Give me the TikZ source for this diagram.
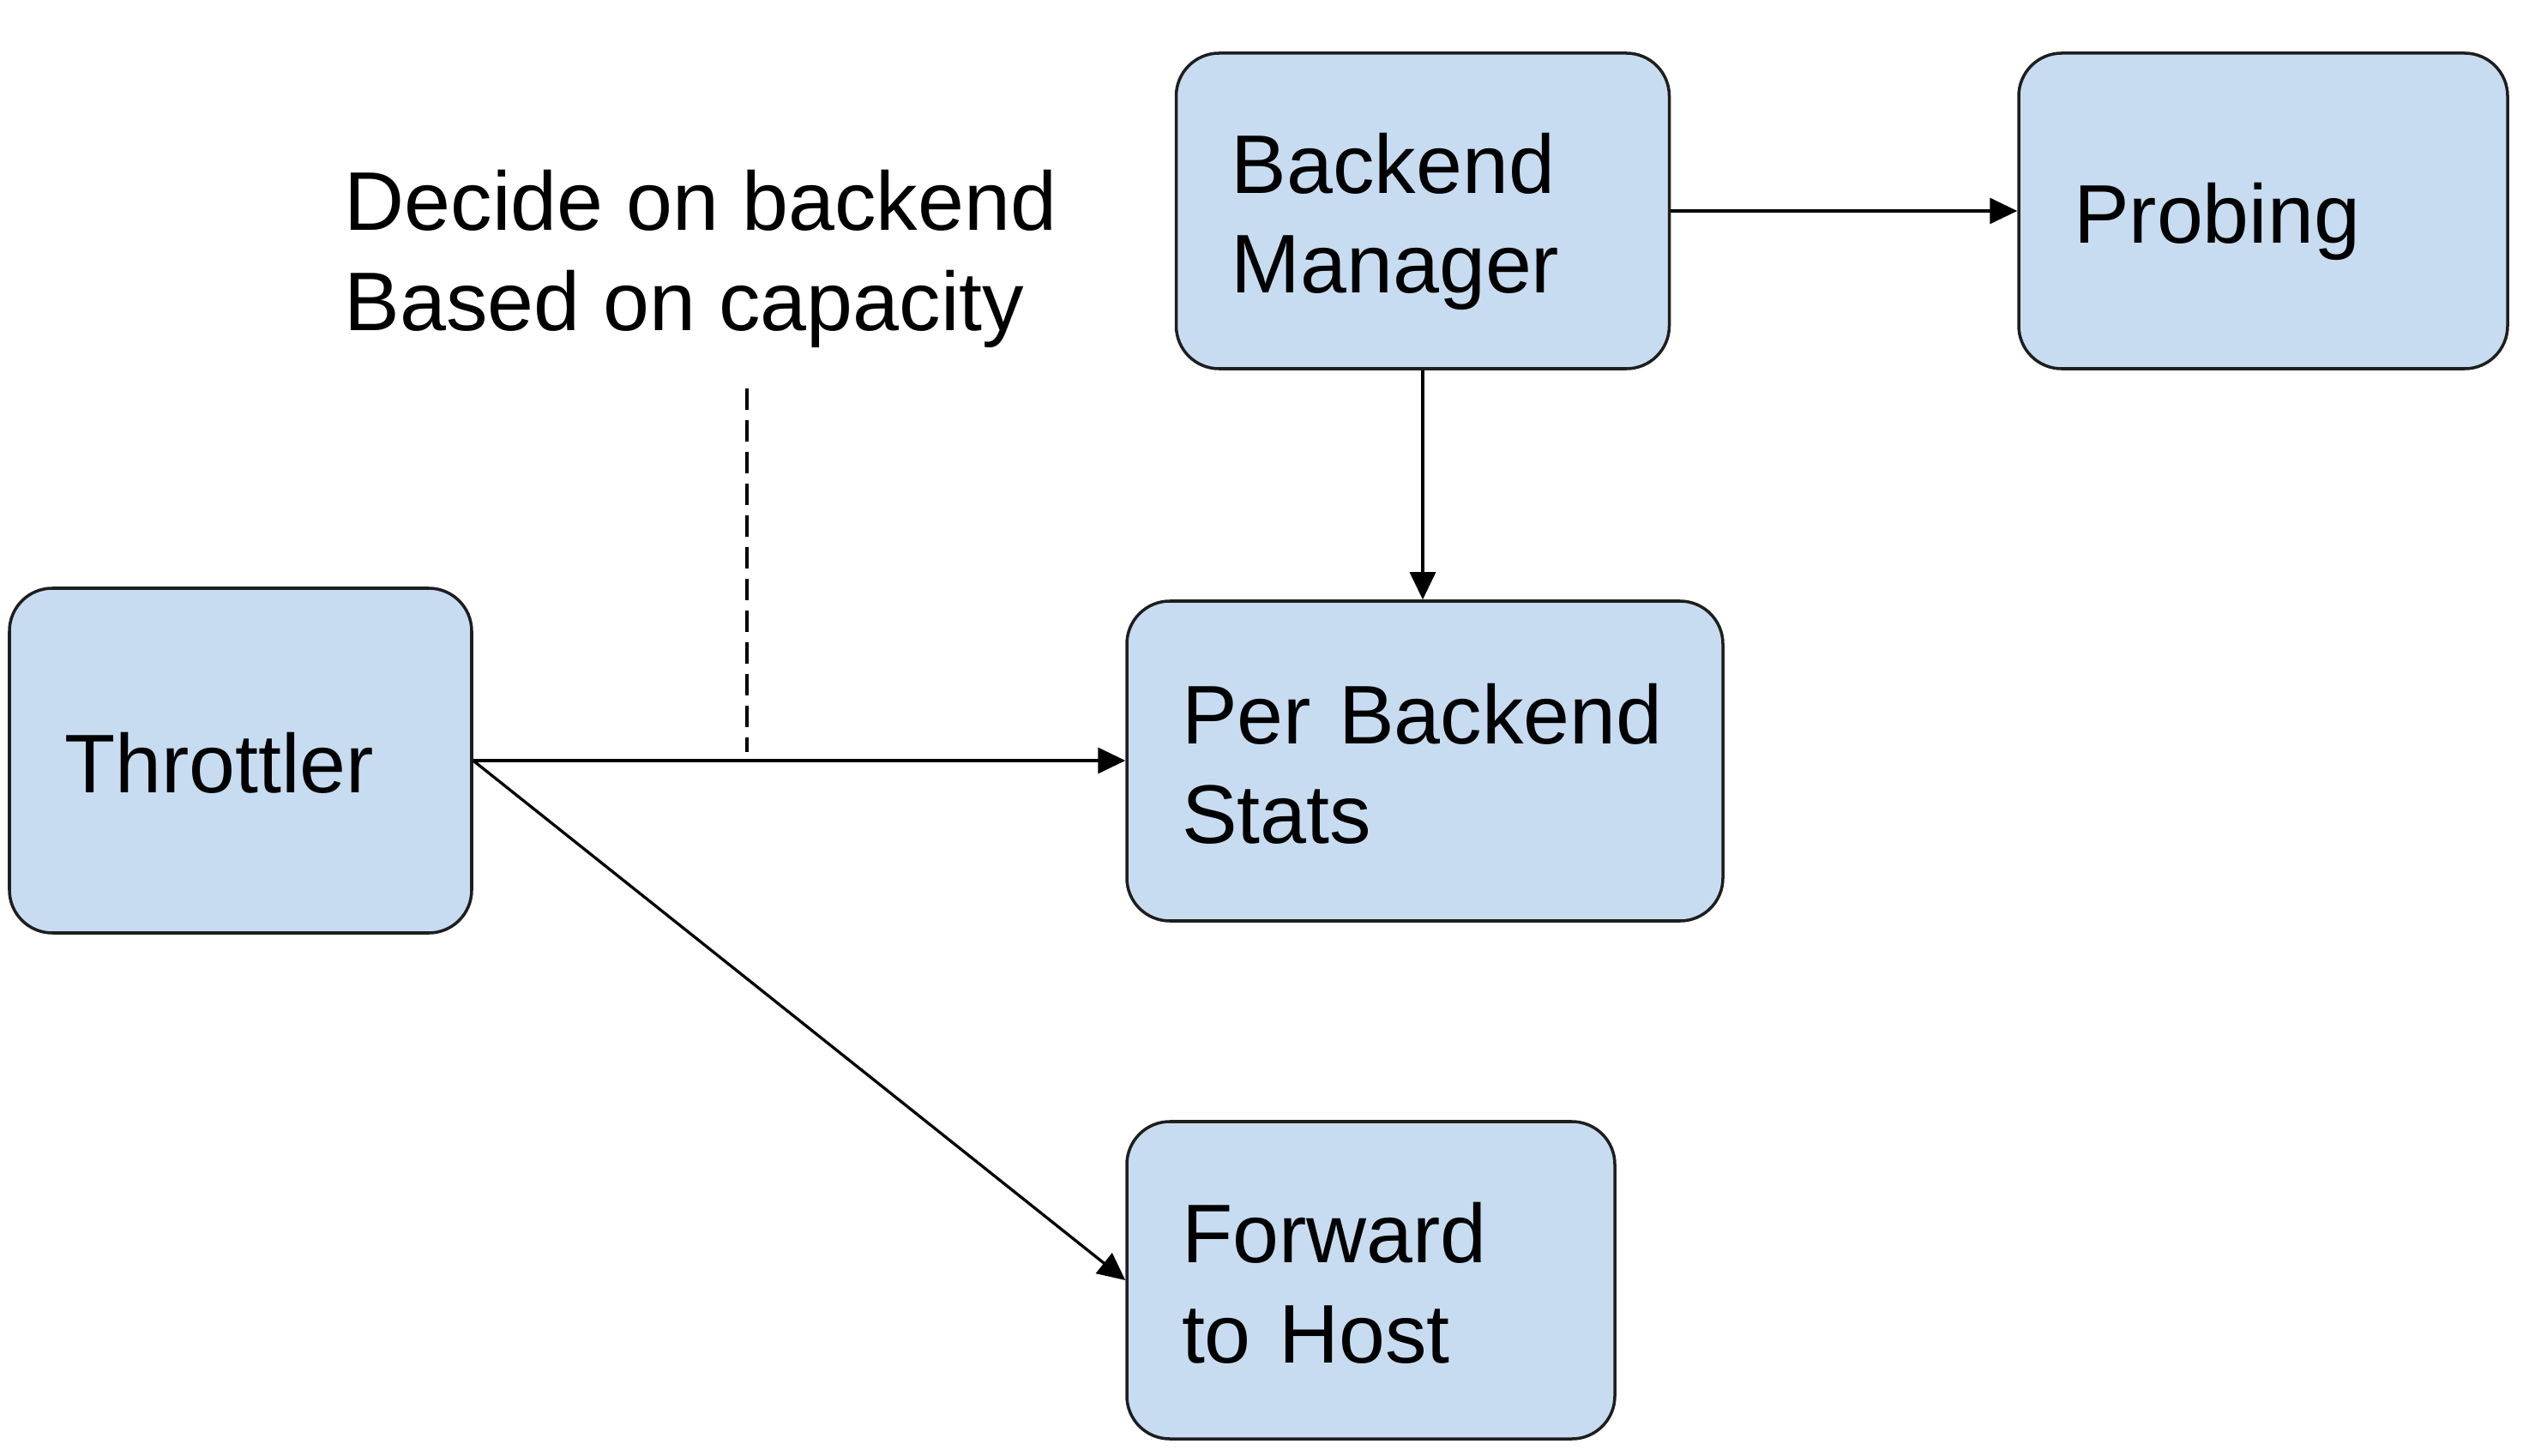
\documentclass[tikz,border=0pt]{standalone}
\usepackage{fontspec}
\setmainfont{Liberation Sans}
\usetikzlibrary{arrows.meta}
\definecolor{boxfill}{RGB}{199,220,240}
\definecolor{edgegray}{RGB}{30,30,30}
\newcommand{\gs}{\rule[-0.2em]{0pt}{1.18em}}
\begin{document}
\begin{tikzpicture}[
  every node/.style={font=\fontsize{27.6pt}{33.1pt}\selectfont},
  box/.style={draw=edgegray, line width=1pt, fill=boxfill, rounded corners=0.5cm,
    align=left, inner xsep=0.64cm, inner ysep=0pt},
  conn/.style={draw=black, line width=0.95pt, -{Triangle[length=0.32cm,width=0.3cm]}},
  dashline/.style={draw=black, line width=0.95pt, dash pattern=on 0.25cm off 0.12cm}]
\useasboundingbox (0,0) rectangle (29.56,-16.98);

\node[box, minimum width=5.39cm, minimum height=4.02cm, text width=4.11cm] (thr) at (2.805,-8.87) {\gs Throttler};
\node[box, minimum width=5.75cm, minimum height=3.68cm, text width=4.47cm] (bm) at (16.59,-2.46) {\gs Backend\\\gs Manager};
\node[box, minimum width=5.70cm, minimum height=3.68cm, text width=4.42cm] (prob) at (26.39,-2.46) {\gs Probing};
\node[box, minimum width=6.95cm, minimum height=3.73cm, text width=5.67cm] (pbs) at (16.615,-8.875) {\gs Per~Backend\\\gs Stats};
\node[box, minimum width=5.69cm, minimum height=3.70cm, text width=4.41cm] (fwd) at (15.985,-14.93) {\gs Forward\\\gs to~Host};

\node[anchor=north west, inner sep=0pt, align=left] (note) at (4.01,-1.73) {\gs Decide on backend\\\gs Based on capacity};

\coordinate (dtop) at (8.71,-4.53);
\coordinate (dbot) at (8.71,-8.77);
\draw[dashline] (dtop) -- (dbot);

\draw[conn] (bm.east) -- (bm.east -| prob.west);
\draw[conn] (bm.south) -- (bm.south |- pbs.north);
\draw[conn] (thr.east) -- (thr.east -| pbs.west);
\draw[conn] (thr.east) -- (fwd.west);
\end{tikzpicture}
\end{document}
